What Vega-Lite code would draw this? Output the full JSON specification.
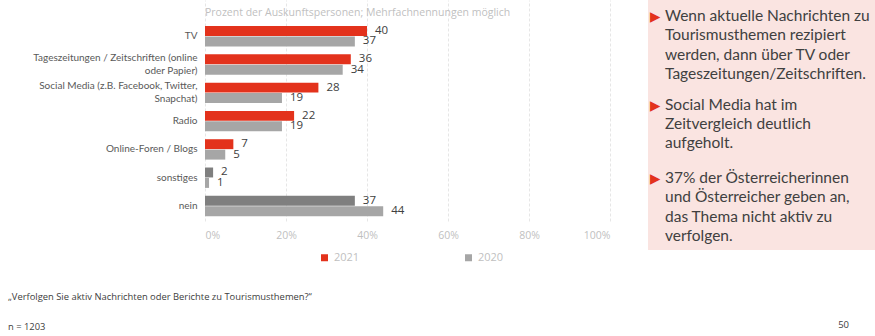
{
  "$schema": "https://vega.github.io/schema/vega-lite/v6.json",
  "padding": 0,
  "background": "white",
  "config": {
    "view": {"stroke": null},
    "font": "Open Sans"
  },
  "spacing": 29,
  "resolve": {"legend": {"color": "independent"}},
  "vconcat": [
    {
      "spacing": 38,
      "resolve": {"legend": {"color": "independent"}},
      "hconcat": [
        {
          "width": 405,
          "height": 221,
          "title": {
            "text": "Prozent der Auskunftspersonen; Mehrfachnennungen möglich",
            "anchor": "start",
            "frame": "group",
            "fontSize": 10.5,
            "fontWeight": "normal",
            "color": "#bfbfbf",
            "offset": -18
          },
          "data": {
            "values": [
              {"cat": "TV", "year": "2021", "grp": "2021", "value": 40},
              {"cat": "TV", "year": "2020", "grp": "2020", "value": 37},
              {"cat": "Tageszeitungen  / Zeitschriften (online|oder Papier)", "year": "2021", "grp": "2021", "value": 36},
              {"cat": "Tageszeitungen  / Zeitschriften (online|oder Papier)", "year": "2020", "grp": "2020", "value": 34},
              {"cat": "Social Media (z.B. Facebook, Twitter,|Snapchat)", "year": "2021", "grp": "2021", "value": 28},
              {"cat": "Social Media (z.B. Facebook, Twitter,|Snapchat)", "year": "2020", "grp": "2020", "value": 19},
              {"cat": "Radio", "year": "2021", "grp": "2021", "value": 22},
              {"cat": "Radio", "year": "2020", "grp": "2020", "value": 19},
              {"cat": "Online-Foren / Blogs", "year": "2021", "grp": "2021", "value": 7},
              {"cat": "Online-Foren / Blogs", "year": "2020", "grp": "2020", "value": 5},
              {"cat": "sonstiges", "year": "2021", "grp": "2021 neutral", "value": 2},
              {"cat": "sonstiges", "year": "2020", "grp": "2020", "value": 1},
              {"cat": "nein", "year": "2021", "grp": "2021 neutral", "value": 37},
              {"cat": "nein", "year": "2020", "grp": "2020", "value": 44}
            ]
          },
          "encoding": {
            "y": {
              "field": "cat",
              "type": "nominal",
              "sort": null,
              "scale": {"paddingInner": 0.28, "paddingOuter": 0.545, "align": 0.844},
              "axis": {
                "title": null,
                "domain": false,
                "ticks": false,
                "labelPadding": 8,
                "labelColor": "#595959",
                "labelFont": "Lato",
                "labelFontSize": 10,
                "labelLineHeight": 13,
                "labelLimit": 0,
                "minExtent": 205,
                "maxExtent": 205,
                "labelOffset": {"condition": {"test": "indexof(datum.value, '|') >= 0", "value": -6.5}, "value": 0},
                "labelExpr": "split(datum.label, '|')"
              }
            },
            "yOffset": {
              "field": "year",
              "type": "nominal",
              "sort": ["2021", "2020"],
              "scale": {"paddingInner": 0.05}
            },
            "x": {
              "field": "value",
              "type": "quantitative",
              "scale": {"domain": [0, 100]},
              "axis": {
                "title": null,
                "values": [0, 20, 40, 60, 80, 100],
                "labelExpr": "datum.value + '%'",
                "domain": false,
                "ticks": false,
                "labelPadding": 9,
                "labelColor": "#bfbfbf",
                "labelFontSize": 10.5,
                "grid": true,
                "gridColor": "#e6e6e6",
                "gridDash": [3, 2],
                "gridWidth": 1
              }
            }
          },
          "layer": [
            {
              "mark": {"type": "bar"},
              "encoding": {
                "color": {
                  "field": "grp",
                  "type": "nominal",
                  "scale": {
                    "domain": ["2021", "2020", "2021 neutral"],
                    "range": ["#e3321c", "#a6a6a6", "#7f7f7f"]
                  },
                  "legend": {
                    "values": ["2021", "2020"],
                    "title": null,
                    "orient": "none",
                    "legendX": 114,
                    "legendY": 252,
                    "direction": "horizontal",
                    "symbolType": "square",
                    "symbolSize": 49,
                    "symbolStrokeWidth": 0,
                    "labelColor": "#bfbfbf",
                    "labelFontSize": 11,
                    "columnPadding": 103
                  }
                }
              }
            },
            {
              "mark": {"type": "text", "align": "left", "baseline": "middle", "dx": 8, "fontSize": 11.5, "color": "#404040"},
              "encoding": {"text": {"field": "value", "type": "quantitative"}}
            }
          ]
        },
        {
          "width": 227,
          "height": 250,
          "view": {"fill": "#fae4e1", "stroke": null},
          "data": {
            "values": [
              {"para": 1, "text": "Wenn aktuelle Nachrichten zu|Tourismusthemen rezipiert|werden, dann über TV oder|Tageszeitungen/Zeitschriften."},
              {"para": 2, "text": "Social Media hat im|Zeitvergleich deutlich|aufgeholt."},
              {"para": 3, "text": "37% der Österreicherinnen|und Österreicher geben an,|das Thema nicht aktiv zu|verfolgen."}
            ]
          },
          "transform": [{"calculate": "split(datum.text, '|')", "as": "lines"}],
          "encoding": {
            "y": {
              "field": "para",
              "type": "quantitative",
              "scale": {"type": "pow", "exponent": 0.65, "domain": [0.912, 4.22], "reverse": true, "zero": false, "nice": false},
              "axis": null
            },
            "x": {"datum": 0, "type": "quantitative", "scale": {"domain": [0, 1]}, "axis": null}
          },
          "layer": [
            {
              "mark": {"type": "text", "text": "▶", "font": "DejaVu Sans", "fontSize": 13.5, "align": "left", "baseline": "top", "dx": 2, "dy": 1, "color": "#e3321c"}
            },
            {
              "mark": {"type": "text", "align": "left", "baseline": "top", "dx": 17, "fontSize": 15.5, "lineHeight": 19.3, "font": "Lato", "color": "#404040"},
              "encoding": {"text": {"field": "lines", "type": "nominal"}}
            }
          ]
        }
      ]
    },
    {
      "width": 670,
      "height": 36,
      "data": {
        "values": [
          {"row": 1, "side": "left", "text": "„Verfolgen Sie aktiv Nachrichten oder Berichte zu Tourismusthemen?“"},
          {"row": 2, "side": "left", "text": "n = 1203"},
          {"row": 2, "side": "right", "text": "50"}
        ]
      },
      "encoding": {
        "y": {"field": "row", "type": "ordinal", "scale": {"type": "point", "padding": 0.1}, "axis": null},
        "x": {"field": "side", "type": "nominal", "scale": {"type": "point", "domain": ["left", "right"], "padding": 0}, "axis": null},
        "text": {"field": "text", "type": "nominal"}
      },
      "layer": [
        {
          "transform": [{"filter": "datum.side === 'left'"}],
          "mark": {"type": "text", "align": "left", "baseline": "middle", "dx": -197, "fontSize": 9.4, "color": "#404040"}
        },
        {
          "transform": [{"filter": "datum.side === 'right'"}],
          "mark": {"type": "text", "align": "right", "baseline": "middle", "dx": -26, "dy": -2, "fontSize": 9.5, "color": "#404040"}
        }
      ]
    }
  ]
}
